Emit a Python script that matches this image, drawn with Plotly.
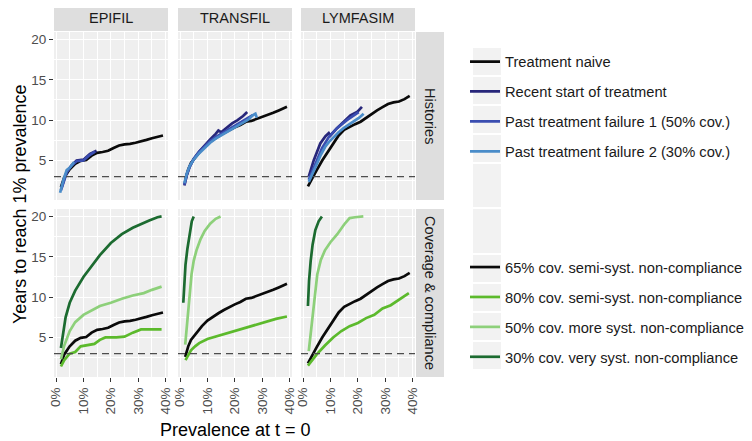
import plotly.graph_objects as go
from plotly.subplots import make_subplots

models = ['EPIFIL', 'TRANSFIL', 'LYMFASIM']
row_labels = ['Histories', 'Coverage & compliance']
x_ticks = [0, 10, 20, 30, 40]
x_ticktext = ['0%', '10%', '20%', '30%', '40%']
y_ticks = [5, 10, 15, 20]

hist_names = ['Treatment naive', 'Recent start of treatment',
              'Past treatment failure 1 (50% cov.)', 'Past treatment failure 2 (30% cov.)']
cov_names = ['65% cov. semi-syst. non-compliance', '80% cov. semi-syst. non-compliance',
             '50% cov. more syst. non-compliance', '30% cov. very syst. non-compliance']

# ---- EPIFIL ----
epifil_naive_x = [1.8, 3, 5, 7, 9, 11, 13, 15, 17, 19, 21, 23, 25, 27, 29, 31, 33, 35, 37, 39]
epifil_naive_y = [1.7, 2.9, 3.9, 4.6, 4.95, 5.05, 5.6, 5.95, 6.05, 6.2, 6.55, 6.85, 7.0, 7.05, 7.2, 7.35, 7.55, 7.75, 7.95, 8.1]
epifil_recent_x = [2.1, 3.0, 3.9, 5.7, 7.5, 10, 12.4, 14.8]
epifil_recent_y = [1.7, 2.8, 3.6, 4.4, 5.0, 5.1, 5.8, 6.2]
epifil_fail1_x = [1.8, 2.8, 3.9, 5.5, 7.5, 10, 12, 14.2]
epifil_fail1_y = [1.3, 2.5, 3.5, 4.3, 4.9, 5.0, 5.6, 6.1]
epifil_fail2_x = [1.5, 2.1, 2.7, 3.9, 5.3, 6.6]
epifil_fail2_y = [1.0, 1.9, 2.6, 3.8, 4.2, 4.8]
epifil_cov80_x = [1.8, 3, 5, 7, 9, 11, 14, 16, 18, 22, 25, 28, 31, 35, 38.5]
epifil_cov80_y = [1.4, 2.2, 3.0, 3.2, 3.9, 4.0, 4.2, 4.7, 5.0, 5.0, 5.1, 5.6, 6.0, 6.0, 6.0]
epifil_cov50_x = [1.8, 3, 5, 7, 10, 13, 16, 20, 24, 28, 32, 35, 38.5]
epifil_cov50_y = [2.3, 4.0, 5.8, 6.9, 7.8, 8.4, 8.9, 9.3, 9.8, 10.2, 10.5, 10.9, 11.3]
epifil_cov30_x = [1.8, 2.5, 3.5, 5, 7, 10, 13, 16, 20, 24, 28, 31, 34, 37, 38.5]
epifil_cov30_y = [3.7, 5.5, 7.5, 9.3, 10.8, 12.5, 13.9, 15.2, 16.7, 17.8, 18.6, 19.1, 19.5, 19.9, 20.0]

# ---- TRANSFIL ----
transfil_naive_x = [1.9, 3, 4, 6, 8, 10, 12, 14, 16, 18, 20, 22, 24, 26, 28, 30, 32, 34, 36, 39]
transfil_naive_y = [2.6, 3.9, 4.7, 5.6, 6.4, 7.1, 7.6, 8.0, 8.4, 8.8, 9.1, 9.4, 9.8, 9.9, 10.15, 10.4, 10.6, 10.9, 11.2, 11.65]
transfil_recent_x = [1.6, 2.5, 3.5, 5, 7, 9, 11, 13, 14, 15, 17, 19, 21, 23, 24.5]
transfil_recent_y = [1.9, 3.2, 4.2, 5.2, 6.1, 6.9, 7.6, 8.3, 8.7, 8.5, 9.1, 9.6, 10.0, 10.5, 11.0]
transfil_fail1_x = [1.6, 2.5, 3.5, 5, 7, 9, 11, 13, 15, 17, 19, 21, 23, 25, 26.5]
transfil_fail1_y = [2.0, 3.3, 4.2, 5.2, 6.1, 6.8, 7.4, 7.9, 8.3, 8.8, 9.2, 9.6, 10.0, 10.4, 10.6]
transfil_fail2_x = [1.6, 2.5, 3.5, 5, 7, 9, 11, 13, 15, 17, 19, 21, 23, 25, 26.5, 27.5, 28]
transfil_fail2_y = [2.2, 3.4, 4.3, 5.1, 5.9, 6.6, 7.2, 7.7, 8.1, 8.6, 9.0, 9.4, 9.8, 10.1, 10.6, 10.8, 10.3]
transfil_cov80_x = [2, 3, 4, 5.5, 7, 10, 13, 16, 20, 25, 30, 35, 39]
transfil_cov80_y = [2.2, 2.9, 3.4, 3.9, 4.3, 4.8, 5.1, 5.4, 5.8, 6.3, 6.8, 7.3, 7.6]
transfil_cov50_x = [1.9, 2.5, 3, 3.5, 4.2, 5, 6, 7.5, 9, 11, 13, 14.8]
transfil_cov50_y = [4.1, 6.5, 8.5, 10.5, 12.8, 14.5, 15.8, 17.2, 18.2, 19.1, 19.7, 20.0]
transfil_cov30_x = [1.2, 1.5, 2, 2.7, 3.5, 4.3, 5]
transfil_cov30_y = [9.3, 11.5, 14, 16, 18, 19.4, 20.0]

# ---- LYMFASIM ----
lymfasim_naive_x = [1.8, 3, 5, 7, 9, 11, 13, 15, 17, 19, 21, 23, 25, 27, 29, 31, 33, 35, 37, 38.9]
lymfasim_naive_y = [1.8, 2.6, 3.8, 5.0, 6.0, 7.1, 8.1, 8.8, 9.2, 9.5, 9.8, 10.3, 10.8, 11.2, 11.6, 12.0, 12.2, 12.3, 12.6, 13.0]
lymfasim_recent_x = [2.1, 3.9, 6.3, 8.2, 9.4, 10, 12.4, 14.8, 17.3, 19.7, 21.5]
lymfasim_recent_y = [3.0, 5.0, 7.1, 8.0, 8.4, 8.1, 9.0, 9.8, 10.6, 11.0, 11.65]
lymfasim_fail1_x = [2.1, 4.5, 6.9, 9.4, 12.4, 16, 20.3]
lymfasim_fail1_y = [2.6, 4.6, 6.5, 7.9, 9.0, 10.0, 11.0]
lymfasim_fail2_x = [2.1, 3.5, 5.1, 6.5, 8.1, 9.5, 11.2, 13, 14.8, 16.5, 18.5, 20.5, 22.1]
lymfasim_fail2_y = [2.35, 3.5, 4.6, 5.7, 6.7, 7.3, 7.9, 8.5, 9.0, 9.4, 9.8, 10.3, 10.8]
lymfasim_cov80_x = [1.8, 5, 8, 11, 14, 17, 20, 23, 26, 29, 32, 35, 38.6]
lymfasim_cov80_y = [1.5, 2.9, 4.0, 5.0, 5.8, 6.4, 6.8, 7.4, 7.8, 8.6, 9.0, 9.7, 10.5]
lymfasim_cov50_x = [2.1, 2.8, 3.5, 4.3, 5.2, 6.5, 8, 10, 12.5, 15, 17, 19, 22]
lymfasim_cov50_y = [3.3, 5.5, 8, 10.5, 12.8, 14.6, 15.8, 16.8, 17.8, 19.0, 19.8, 19.9, 20]
lymfasim_cov30_x = [1.8, 2.2, 2.8, 3.5, 4.5, 5.7, 6.9]
lymfasim_cov30_y = [8.9, 12, 14.5, 16.5, 18.3, 19.4, 20.0]

hist_colors = ['#0a0a0a', '#27267a', '#3a4db0', '#4a8cc9']
cov_colors = ['#0a0a0a', '#5cba2c', '#8dd07a', '#1c6b30']

# 65% coverage semi-systematic = treatment naive baseline
hist_data = [
    [(epifil_naive_x, epifil_naive_y), (epifil_recent_x, epifil_recent_y),
     (epifil_fail1_x, epifil_fail1_y), (epifil_fail2_x, epifil_fail2_y)],
    [(transfil_naive_x, transfil_naive_y), (transfil_recent_x, transfil_recent_y),
     (transfil_fail1_x, transfil_fail1_y), (transfil_fail2_x, transfil_fail2_y)],
    [(lymfasim_naive_x, lymfasim_naive_y), (lymfasim_recent_x, lymfasim_recent_y),
     (lymfasim_fail1_x, lymfasim_fail1_y), (lymfasim_fail2_x, lymfasim_fail2_y)],
]
cov_data = [
    [(epifil_naive_x, epifil_naive_y), (epifil_cov80_x, epifil_cov80_y),
     (epifil_cov50_x, epifil_cov50_y), (epifil_cov30_x, epifil_cov30_y)],
    [(transfil_naive_x, transfil_naive_y), (transfil_cov80_x, transfil_cov80_y),
     (transfil_cov50_x, transfil_cov50_y), (transfil_cov30_x, transfil_cov30_y)],
    [(lymfasim_naive_x, lymfasim_naive_y), (lymfasim_cov80_x, lymfasim_cov80_y),
     (lymfasim_cov50_x, lymfasim_cov50_y), (lymfasim_cov30_x, lymfasim_cov30_y)],
]

W, H = 752, 441
OFF = 8  # page body margin offset
FONT = 'Liberation Sans, Arial, sans-serif'


def px(x):
    return (x - OFF) / W


def py(y):
    return 1 - (y - OFF) / H


col_px = [(54, 168), (178, 292), (301, 415)]
row_px = [(32, 200), (209, 377)]

fig = make_subplots(rows=2, cols=3)

for c in range(3):
    for i, (xs, ys) in enumerate(hist_data[c]):
        fig.add_trace(go.Scatter(x=xs, y=ys, mode='lines', name=hist_names[i],
                                 line=dict(color=hist_colors[i], width=2.7),
                                 legend='legend', legendgroup='h%d' % i,
                                 showlegend=(c == 0)), row=1, col=c + 1)
    for i, (xs, ys) in enumerate(cov_data[c]):
        fig.add_trace(go.Scatter(x=xs, y=ys, mode='lines', name=cov_names[i],
                                 line=dict(color=cov_colors[i], width=2.7),
                                 legend='legend2', legendgroup='c%d' % i,
                                 showlegend=(c == 0)), row=2, col=c + 1)

fig.add_hline(y=3, row='all', col='all', line=dict(color='#4d4d4d', width=1.2, dash='7px,5px'))

for r in range(2):
    for c in range(3):
        x0, x1 = col_px[c]
        y0, y1 = row_px[r]
        fig.update_xaxes(domain=[px(x0), px(x1)], range=[-0.73, 40.84], automargin=False,
                         tickvals=x_ticks, ticktext=x_ticktext, tickangle=-90,
                         showticklabels=(r == 1), ticks='outside' if r == 1 else '',
                         ticklen=4, tickcolor='#333333',
                         tickfont=dict(size=13.5, color='#4d4d4d', family=FONT),
                         showgrid=True, gridcolor='white', gridwidth=1.3,
                         minor=dict(dtick=5, tick0=0, showgrid=True, gridcolor='white', gridwidth=0.7),
                         zeroline=False, showline=False, row=r + 1, col=c + 1)
        fig.update_yaxes(domain=[py(y1), py(y0)], range=[0.1, 20.92], automargin=False,
                         tickvals=y_ticks, showticklabels=(c == 0),
                         ticks='outside' if c == 0 else '', ticklen=4, tickcolor='#333333',
                         tickfont=dict(size=13.5, color='#4d4d4d', family=FONT),
                         showgrid=True, gridcolor='white', gridwidth=1.3,
                         minor=dict(dtick=2.5, tick0=0, showgrid=True, gridcolor='white', gridwidth=0.7),
                         zeroline=False, showline=False, row=r + 1, col=c + 1)

shapes = []
annotations = []
strip_col = '#dedede'
for c, m in enumerate(models):
    x0, x1 = col_px[c]
    shapes.append(dict(type='rect', xref='paper', yref='paper', x0=px(x0), x1=px(x1),
                       y0=py(31), y1=py(4), fillcolor=strip_col, line=dict(width=0), layer='below'))
    annotations.append(dict(text=m, x=px((x0 + x1) / 2), y=py(18), xref='paper', yref='paper',
                            xanchor='center', yanchor='middle', showarrow=False,
                            font=dict(size=14.5, color='#1a1a1a', family=FONT)))
for r, lab in enumerate(row_labels):
    y0, y1 = row_px[r]
    shapes.append(dict(type='rect', xref='paper', yref='paper', x0=px(416), x1=px(444),
                       y0=py(y1), y1=py(y0), fillcolor=strip_col, line=dict(width=0), layer='below'))
    annotations.append(dict(text=lab, x=px(430), y=py((y0 + y1) / 2), xref='paper', yref='paper',
                            xanchor='center', yanchor='middle', showarrow=False, textangle=90,
                            font=dict(size=14.5, color='#1a1a1a', family=FONT)))

# legend key backgrounds
key_rows = [(48, 75), (77, 104), (106, 133), (135, 162), (164, 207), (209, 253),
            (255, 282), (284, 311), (313, 340), (342, 369)]
for k0, k1 in key_rows:
    shapes.append(dict(type='rect', xref='paper', yref='paper', x0=px(473), x1=px(501),
                       y0=py(k1), y1=py(k0), fillcolor='#f2f2f2', line=dict(width=0), layer='below'))

annotations.append(dict(text='Prevalence at t = 0', x=px(235), y=py(430), xref='paper', yref='paper',
                        xanchor='center', yanchor='middle', showarrow=False,
                        font=dict(size=18, color='#000000', family=FONT)))
annotations.append(dict(text='Years to reach 1% prevalence', x=px(20), y=py(205), xref='paper',
                        yref='paper', xanchor='center', yanchor='middle', showarrow=False,
                        textangle=-90, font=dict(size=18, color='#000000', family=FONT)))

legend_style = dict(xanchor='left', yanchor='top', bgcolor='rgba(0,0,0,0)', borderwidth=0,
                    tracegroupgap=7.8, font=dict(size=14.7, color='#1a1a1a', family=FONT),
                    traceorder='grouped')

fig.update_layout(
    width=W, height=H, autosize=False,
    margin=dict(l=0, r=0, t=0, b=0),
    paper_bgcolor='white', plot_bgcolor='#efefef',
    font=dict(family=FONT),
    shapes=list(fig.layout.shapes) + shapes,
    annotations=annotations,
    legend=dict(x=px(465), y=py(45.5), **legend_style),
    legend2=dict(x=px(465), y=py(251), **legend_style),
)

fig.write_html('out.html')
